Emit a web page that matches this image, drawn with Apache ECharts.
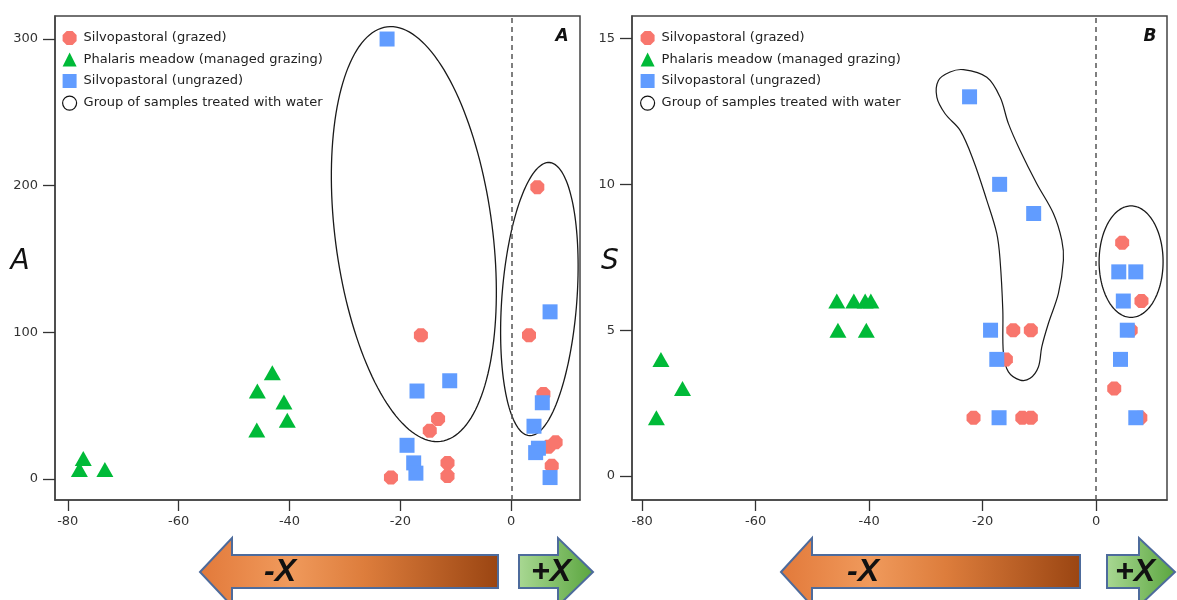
<!DOCTYPE html>
<html><head><meta charset="utf-8">
<script src="https://cdn.jsdelivr.net/npm/echarts@6/dist/echarts.min.js"></script>
<style>html,body{margin:0;padding:0;background:#fff}#c{width:1177px;height:600px}</style>
</head><body><div id="c"></div>
<script>
// ---- tick labels ----
const xTicks = [-80, -60, -40, -20, 0];
const yTicksA = [0, 100, 200, 300];
const yTicksB = [0, 5, 10, 15];
const seriesNames = ['Silvopastoral (grazed)', 'Phalaris meadow (managed grazing)', 'Silvopastoral (ungrazed)', 'Group of samples treated with water'];

// ---- Panel A (abundance A) ----
const grazedAX = [-21.7, -16.3, -14.7, -13.2, -11.5, -11.5, 3.2, 4.7, 5.8, 6.7, 7.3, 8.0];
const grazedAY = [1, 98, 33, 41, 11, 2, 98, 199, 58, 22, 9, 25];
const meadowAX = [-77.2, -77.9, -73.3, -43.1, -45.8, -41.0, -40.4, -45.9];
const meadowAY = [14, 6.5, 6.5, 72.5, 60, 52.5, 40, 33.5];
const ungrazedAX = [-22.4, -17.0, -11.1, -18.8, -17.6, -17.2, 7.0, 5.6, 4.1, 4.9, 4.4, 7.0];
const ungrazedAY = [300, 60, 67, 23, 11, 4, 114, 52, 36, 21, 18, 1];

// ---- Panel B (richness S) ----
const grazedBX = [-21.6, -15.9, -14.6, -13.0, -11.5, -11.5, 3.2, 4.6, 6.1, 7.8, 8.0];
const grazedBY = [2, 4, 5, 2, 5, 2, 3, 8, 5, 2, 6];
const meadowBX = [-76.7, -72.9, -77.5, -45.7, -42.7, -40.7, -39.7, -45.5, -40.5];
const meadowBY = [4, 3, 2, 6, 6, 6, 6, 5, 5];
const ungrazedBX = [-22.3, -17.0, -11.0, -18.6, -17.5, -17.1, 4.0, 7.0, 4.8, 5.5, 4.3, 7.0];
const ungrazedBY = [13, 10, 9, 5, 4, 2, 7, 7, 6, 5, 4, 2];

// ---- water-treated groups (data units): centre x, centre y, conjugate semi-diameters u and v ----
const ellipseA_cx = [-17.57, 5.07];
const ellipseA_cy = [167.0, 122.7];
const ellipseA_u = [[4.85, -141.3], [-1.82, -93.1]];
const ellipseA_v = [[14.07, 6.88], [6.75, -1.89]];
const ellipseB_cx = [6.17];
const ellipseB_cy = [7.35];
const ellipseB_u = [[0, 1.91]];
const ellipseB_v = [[5.64, 0]];
// free-form outline in panel B (data units)
const blobBX = [-23.38, -19.26, -16.92, -15.45, -13.39, -10.45, -7.52, -6.04, -5.76, -6.64, -8.41, -9.57, -10.17, -11.63, -13.39, -15.45, -16.33, -16.44, -16.92, -17.50, -19.26, -21.62, -23.96, -26.61, -28.07, -27.79, -25.73];
const blobBY = [13.93, 13.67, 12.99, 12.08, 11.16, 10.02, 9.0, 8.08, 7.40, 6.26, 5.23, 4.43, 3.74, 3.35, 3.29, 3.57, 4.20, 5.68, 7.40, 8.31, 9.45, 10.82, 11.85, 12.42, 12.99, 13.56, 13.85];

const RED = '#F8766D', GREEN = '#00BA38', BLUE = '#619CFF';
const OCT = 'path://M29,0L71,0L100,29L100,71L71,100L29,100L0,71L0,29Z';
const FONT = 'DejaVu Sans';

const zip = (xs, ys) => xs.map((x, i) => [x, ys[i]]);
const ellData = (cx, cy, u, v) => cx.map((c, i) => [c, cy[i], u[i][0], u[i][1], v[i][0], v[i][1]]);

function ellipseRender(params, api) {
  const cx = api.value(0), cy = api.value(1), ux = api.value(2), uy = api.value(3), vx = api.value(4), vy = api.value(5);
  const pts = [];
  for (let i = 0; i < 160; i++) {
    const t = i / 160 * 2 * Math.PI;
    pts.push(api.coord([cx + ux * Math.cos(t) + vx * Math.sin(t), cy + uy * Math.cos(t) + vy * Math.sin(t)]));
  }
  return { type: 'polygon', shape: { points: pts }, style: { fill: 'none', stroke: '#1a1a1a', lineWidth: 1.3 }, silent: true };
}
function blobRender(params, api) {
  const pts = blobBX.map((x, i) => api.coord([x, blobBY[i]]));
  return { type: 'polygon', shape: { points: pts, smooth: 0.35 }, style: { fill: 'none', stroke: '#1a1a1a', lineWidth: 1.2 }, silent: true };
}

function xAxis(gi, min, max) {
  return {
    gridIndex: gi, type: 'value', min: min, max: max, position: 'bottom',
    axisLine: { show: true, onZero: false, lineStyle: { color: '#444', width: 1.5 } },
    axisTick: { show: true, inside: false, length: 11, customValues: xTicks, lineStyle: { color: '#333', width: 1.3 } },
    axisLabel: { customValues: xTicks, fontSize: 13, fontFamily: FONT, color: '#333', margin: 15 },
    splitLine: { show: false }
  };
}
function yAxis(gi, min, max, ticks) {
  return {
    gridIndex: gi, type: 'value', min: min, max: max, position: 'left',
    axisLine: { show: true, onZero: false, lineStyle: { color: '#444', width: 1.5 } },
    axisTick: { show: true, inside: false, length: 12, customValues: ticks, lineStyle: { color: '#333', width: 1.3 } },
    axisLabel: { customValues: ticks, fontSize: 13, fontFamily: FONT, color: '#333', margin: 17 },
    splitLine: { show: false }
  };
}
const zeroLine = {
  silent: true, symbol: 'none', label: { show: false },
  lineStyle: { type: [5, 4], color: '#555', width: 1.5 },
  data: [{ xAxis: 0 }]
};
function panelSeries(gi, g, m, u, ellipses) {
  const out = [
    { name: seriesNames[1], type: 'scatter', xAxisIndex: gi, yAxisIndex: gi, symbol: 'triangle', symbolSize: [17, 15], itemStyle: { color: GREEN, opacity: 1 }, data: m, z: 3 },
    { name: seriesNames[0], type: 'scatter', xAxisIndex: gi, yAxisIndex: gi, symbol: OCT, symbolSize: 14, itemStyle: { color: RED, opacity: 1 }, data: g, z: 3, markLine: zeroLine },
    { name: seriesNames[2], type: 'scatter', xAxisIndex: gi, yAxisIndex: gi, symbol: 'rect', symbolSize: 15, itemStyle: { color: BLUE, opacity: 1 }, data: u, z: 4 }
  ];
  return out.concat(ellipses);
}
const legendItems = [
  { name: seriesNames[0], icon: OCT, itemStyle: { color: RED } },
  { name: seriesNames[1], icon: 'triangle', itemStyle: { color: GREEN } },
  { name: seriesNames[2], icon: 'rect', itemStyle: { color: BLUE } },
  { name: seriesNames[3], icon: 'circle', itemStyle: { color: '#fff', borderColor: '#111', borderWidth: 1.2 } }
];
function legend(left) {
  return {
    left: left, top: 26, orient: 'vertical', itemWidth: 14, itemHeight: 14, itemGap: 7.5,
    selectedMode: false,
    textStyle: { fontSize: 13, fontFamily: FONT, color: '#222', padding: [0, 0, 0, 2] },
    data: legendItems
  };
}

function arrowLeft(tip, back, end) {
  return [[tip, 572], [back, 538], [back, 555], [end, 555], [end, 588], [back, 588], [back, 606]];
}
function arrowRight(start, back, tip) {
  return [[start, 555], [back, 555], [back, 538], [tip, 572], [back, 606], [back, 588], [start, 588]];
}
const orangeFill = () => new echarts.graphic.LinearGradient(0, 0, 1, 0, [
  { offset: 0, color: '#e2793a' }, { offset: 0.3, color: '#f09a5c' }, { offset: 0.55, color: '#dd7d3c' }, { offset: 1, color: '#9a4512' }]);
const greenFill = () => new echarts.graphic.LinearGradient(0, 0, 1, 0, [
  { offset: 0, color: '#a9d893' }, { offset: 1, color: '#5aa53e' }]);
const arrowStroke = { stroke: '#4d6b9c', lineWidth: 2 };
const bigText = (x, y, t) => ({ type: 'text', x: x, y: y, silent: true, style: { text: t, fontSize: 32, fontWeight: 'bold', fontStyle: 'italic', fontFamily: 'Liberation Sans', fill: '#111', align: 'center', verticalAlign: 'middle' } });
const labelText = (x, y, t, size, weight) => ({ type: 'text', x: x, y: y, silent: true, style: { text: t, fontSize: size, fontWeight: weight, fontStyle: 'italic', fontFamily: FONT, fill: '#111', align: 'center', verticalAlign: 'middle' } });

const chart = echarts.init(document.getElementById('c'), null, { renderer: 'canvas' });
chart.setOption({
  animation: false,
  backgroundColor: '#fff',
  grid: [
    { left: 55, top: 16, width: 525, height: 484, show: true, borderColor: '#444', borderWidth: 1.5, backgroundColor: 'transparent' },
    { left: 632, top: 16, width: 535, height: 484, show: true, borderColor: '#444', borderWidth: 1.5, backgroundColor: 'transparent' }
  ],
  xAxis: [xAxis(0, -82.3, 12.4), xAxis(1, -81.8, 12.5)],
  yAxis: [yAxis(0, -14.3, 315.7, yTicksA), yAxis(1, -0.82, 15.77, yTicksB)],
  legend: [legend(57), legend(635)],
  series: [].concat(
    panelSeries(0, zip(grazedAX, grazedAY), zip(meadowAX, meadowAY), zip(ungrazedAX, ungrazedAY), [
      { name: seriesNames[3], type: 'custom', xAxisIndex: 0, yAxisIndex: 0, encode: { x: 0, y: 1 }, renderItem: ellipseRender, data: ellData(ellipseA_cx, ellipseA_cy, ellipseA_u, ellipseA_v), z: 2 }
    ]),
    panelSeries(1, zip(grazedBX, grazedBY), zip(meadowBX, meadowBY), zip(ungrazedBX, ungrazedBY), [
      { name: seriesNames[3], type: 'custom', xAxisIndex: 1, yAxisIndex: 1, encode: { x: 0, y: 1 }, renderItem: ellipseRender, data: ellData(ellipseB_cx, ellipseB_cy, ellipseB_u, ellipseB_v), z: 2 },
      { name: seriesNames[3], type: 'custom', xAxisIndex: 1, yAxisIndex: 1, encode: { x: 0, y: 1 }, renderItem: blobRender, data: [[blobBX[0], blobBY[0]]], z: 2 }
    ])
  ),
  graphic: [
    labelText(20, 262, 'A', 28, 'normal'),
    labelText(610, 262, 'S', 28, 'normal'),
    labelText(562, 37, 'A', 17, 'bold'),
    labelText(1150, 37, 'B', 17, 'bold'),
    { type: 'polygon', silent: true, shape: { points: arrowLeft(200, 232, 498) }, style: Object.assign({ fill: orangeFill() }, arrowStroke) },
    { type: 'polygon', silent: true, shape: { points: arrowRight(519, 558, 593) }, style: Object.assign({ fill: greenFill() }, arrowStroke) },
    { type: 'polygon', silent: true, shape: { points: arrowLeft(781, 812, 1080) }, style: Object.assign({ fill: orangeFill() }, arrowStroke) },
    { type: 'polygon', silent: true, shape: { points: arrowRight(1107, 1139, 1175) }, style: Object.assign({ fill: greenFill() }, arrowStroke) },
    bigText(280, 572, '-X'),
    bigText(551, 572, '+X'),
    bigText(863, 572, '-X'),
    bigText(1135, 572, '+X')
  ]
});
</script>
</body></html>
